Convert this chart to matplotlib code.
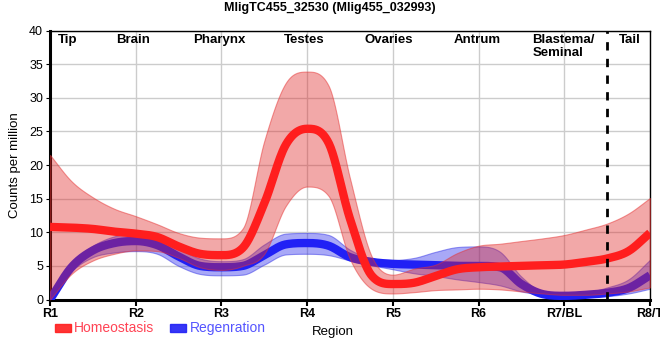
import numpy as np
from matplotlib import pyplot as plt

plt.rcParams['font.family'] = ['Liberation Sans', 'DejaVu Sans']

title = 'MligTC455_32530 (Mlig455_032993)'
region_ticks = ['R1', 'R2', 'R3', 'R4', 'R5', 'R6', 'R7/BL', 'R8/T']
region_names = ['Tip', 'Brain', 'Pharynx', 'Testes', 'Ovaries', 'Antrum', 'Blastema/\nSeminal', 'Tail']
name_pos = [0.2, 0.97, 1.98, 2.96, 3.95, 4.98, 5.99, 6.77]

# sample positions along the body (region units, R1 = 0)
pos = np.arange(0, 7.01, 0.25)

hom_mean = [10.8, 10.7, 10.5, 10.1, 9.8, 9.3, 7.9, 6.8, 6.6, 7.7, 14.3, 23.0, 25.4, 23.3, 12.0,
            3.6, 2.3, 2.5, 3.5, 4.5, 4.8, 4.9, 5.0, 5.1, 5.2, 5.6, 6.1, 7.2, 9.9]
hom_upper = [21.5, 17.6, 15.2, 13.5, 12.4, 11.2, 9.9, 9.2, 9.1, 10.6, 23.6, 32.2, 33.9, 31.8, 18.0,
             6.5, 3.7, 4.6, 5.2, 6.9, 8.0, 8.3, 8.7, 9.1, 9.6, 10.4, 11.3, 12.8, 15.1]
hom_lower = [0.0, 3.8, 5.8, 6.8, 7.3, 7.2, 6.2, 4.8, 4.4, 5.0, 6.8, 13.9, 16.8, 15.4, 6.0,
             1.6, 0.9, 1.1, 1.4, 1.5, 1.6, 1.5, 1.2, 0.9, 0.7, 0.7, 0.9, 1.2, 1.8]

reg_mean = [0.0, 4.8, 7.3, 8.4, 8.7, 8.1, 6.4, 5.0, 4.8, 5.0, 6.6, 8.2, 8.4, 8.0, 6.3,
            5.6, 5.3, 5.2, 5.1, 5.0, 5.0, 4.8, 2.3, 0.8, 0.55, 0.7, 1.0, 1.7, 3.6]
reg_upper = [0.0, 5.3, 8.0, 9.4, 9.9, 9.4, 7.6, 6.1, 5.7, 6.0, 8.2, 9.8, 9.9, 9.6, 7.4,
             6.1, 5.9, 6.2, 7.1, 7.8, 7.9, 7.1, 3.4, 1.2, 1.0, 1.1, 1.8, 3.0, 5.9]
reg_lower = [0.0, 4.2, 6.3, 7.0, 7.2, 6.8, 5.0, 3.8, 3.6, 3.7, 5.2, 6.7, 6.8, 6.6, 5.8,
             5.1, 4.5, 3.9, 3.5, 3.0, 2.6, 2.1, 1.2, 0.7, 0.3, 0.4, 0.5, 0.9, 1.6]


def smooth(x, y, xs):
    # cubic hermite with Fritsch-Carlson slope limiting (no overshoot, rounder than pchip)
    x = np.asarray(x, float)
    y = np.asarray(y, float)
    h = np.diff(x)
    d = np.diff(y) / h
    m = np.zeros_like(y)
    for k in range(1, len(y) - 1):
        if d[k - 1] * d[k] > 0:
            s = 0.5 * (d[k - 1] + d[k])
            lim = 3 * min(abs(d[k - 1]), abs(d[k]))
            m[k] = np.sign(s) * min(abs(s), lim)
    m[0] = d[0]
    m[-1] = d[-1]
    idx = np.clip(np.searchsorted(x, xs) - 1, 0, len(h) - 1)
    t = (xs - x[idx]) / h[idx]
    h00 = 2 * t**3 - 3 * t**2 + 1
    h10 = t**3 - 2 * t**2 + t
    h01 = -2 * t**3 + 3 * t**2
    h11 = t**3 - t**2
    return h00 * y[idx] + h10 * h[idx] * m[idx] + h01 * y[idx + 1] + h11 * h[idx] * m[idx + 1]


xs = np.linspace(0, 7, 700)

fig = plt.figure(figsize=(6.6, 3.6), dpi=100)
ax = fig.add_axes([0.0758, 0.168, 0.909, 0.747])

red = '#ff1e1e'
blue = '#2020f5'

ax.fill_between(xs, smooth(pos, reg_lower, xs), smooth(pos, reg_upper, xs),
                facecolor=(0.15, 0.15, 0.92, 0.4), edgecolor=(0.2, 0.2, 0.9, 0.5), linewidth=0.8, zorder=2)
ax.plot(xs, smooth(pos, reg_mean, xs), color=blue, linewidth=6, solid_capstyle='butt', zorder=3)
ax.fill_between(xs, smooth(pos, hom_lower, xs), smooth(pos, hom_upper, xs),
                facecolor=(0.88, 0.15, 0.15, 0.4), edgecolor=(0.9, 0.2, 0.2, 0.5), linewidth=0.8, zorder=4)
ax.plot(xs, smooth(pos, hom_mean, xs), color=red, linewidth=6, solid_capstyle='butt', zorder=5)

ax.axvline(6.5, color='black', linestyle=(0, (3, 3)), linewidth=2, zorder=6)

for name, p in zip(region_names, name_pos):
    ax.text(p, 39.5, name, ha='center', va='top', fontsize=9.5, fontweight='bold',
            linespacing=1.15, zorder=7, multialignment='left')

ax.set_xlim(0, 7)
ax.set_ylim(0, 40)
ax.set_xticks(range(len(region_ticks)))
ax.set_xticklabels(region_ticks, fontsize=9, fontweight='bold')
ax.set_yticks(np.arange(0, 41, 5))
ax.tick_params(axis='y', labelsize=9, length=3, pad=2)
ax.tick_params(axis='x', length=4, width=1.5, pad=2)
ax.grid(color='#cccccc', linewidth=1)
ax.set_axisbelow(True)
for side in ['left', 'bottom']:
    ax.spines[side].set_linewidth(2.2)
for side in ['top', 'right']:
    ax.spines[side].set_linewidth(1)

ax.set_ylabel('Counts per million', fontsize=9.5, labelpad=6)
fig.text(0.505, 0.078, 'Region', ha='center', va='center', fontsize=9.5)
fig.text(0.5, 0.977, title, ha='center', va='center', fontsize=9, fontweight='bold')

# legend drawn under the axis like the original
fig.patches.append(plt.Rectangle((0.083, 0.077), 0.024, 0.022, transform=fig.transFigure,
                                 color=red, alpha=0.9))
fig.text(0.112, 0.088, 'Homeostasis', color='#ff4455', fontsize=10, va='center')
fig.patches.append(plt.Rectangle((0.258, 0.077), 0.024, 0.022, transform=fig.transFigure,
                                 color=blue, alpha=0.9))
fig.text(0.287, 0.088, 'Regenration', color='#5555ff', fontsize=10, va='center')

fig.savefig('out.png', dpi=100)
